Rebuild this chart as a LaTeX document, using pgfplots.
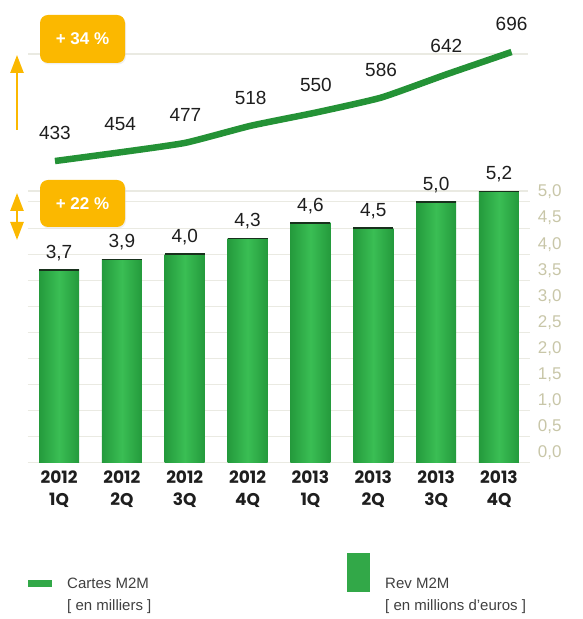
\documentclass[border=0pt]{standalone}
\usepackage{pgfplots}
\pgfplotsset{compat=1.18}
\usepackage{fontspec}
\setmainfont{Liberation Sans}
\newfontfamily\pop{Poppins}
\usetikzlibrary{arrows.meta}
\definecolor{barA}{RGB}{36,154,60}
\definecolor{barB}{RGB}{58,190,84}
\definecolor{lineG}{RGB}{36,146,54}
\definecolor{badge}{RGB}{251,184,0}
\definecolor{tickc}{RGB}{200,198,168}
\definecolor{gridc}{RGB}{234,234,226}
\definecolor{txt}{RGB}{30,30,30}
\definecolor{legG}{RGB}{50,168,72}
\definecolor{topE}{RGB}{24,48,28}
\pgfplotsset{
  bstyle/.style={ybar, bar width=40pt, draw=none, left color=barA, right color=barA, middle color=barB,
    every node near coord/.append style={anchor=center, yshift=17pt, font=\fontsize{19}{22}\selectfont, text=txt}},
}

\begin{document}
\begin{tikzpicture}
\useasboundingbox (0,0) rectangle (582pt,619pt);

% ---------------- line chart (Cartes M2M) ----------------
\begin{axis}[
  at={(28pt,427.7pt)}, anchor=south west,
  scale only axis, width=500pt, height=136.8pt,
  xmin=-0.4135, xmax=7.2523, ymin=360, ymax=690,
  axis line style={draw=none}, major tick length=0pt,
  xtick=\empty, ytick={360,690}, yticklabels={},
  ymajorgrids, grid style={gridc, line width=2pt},
  /pgf/number format/assume math mode=true,
  clip=false,
]
\addplot[lineG, line width=6.5pt, line cap=butt, line join=round, smooth, tension=0.3,
  nodes near coords,
  every node near coord/.append style={anchor=center, yshift=28pt, font=\fontsize{19}{22}\selectfont, text=txt}]
  coordinates {(0,433) (1,454) (2,477) (3,518) (4,550) (5,586) (6,642) (7,696)};
\end{axis}

% ---------------- bar chart (Rev M2M) ----------------
\begin{axis}[
  at={(27.6pt,156pt)}, anchor=south west,
  scale only axis, width=502.8pt, height=281.9pt,
  xmin=-0.5, xmax=7.5, ymin=0, ymax=5.4,
  axis line style={draw=none}, major tick length=0pt,
  xtick={0,1,2,3,4,5,6,7},
  xticklabels={{2012\\1Q},{2012\\2Q},{2012\\3Q},{2012\\4Q},{2013\\1Q},{2013\\2Q},{2013\\3Q},{2013\\4Q}},
  xticklabel style={align=center, font=\pop\bfseries\fontsize{17}{22}\selectfont, text=txt, yshift=-4pt},
  ytick={0,0.5,1,1.5,2,2.5,3,3.5,4,4.5,5}, yticklabel pos=right,
  ymajorgrids, grid style={gridc, line width=1pt},
  yticklabel style={text=tickc, font=\fontsize{17}{20}\selectfont, yshift=10pt, xshift=4pt,
    /pgf/number format/.cd, fixed, fixed zerofill, precision=1, use comma},
  /pgf/number format/assume math mode=true,
  clip=false,
]
\addplot[bstyle, nodes near coords={3,7}] coordinates {(0,3.7)};
\addplot[bstyle, nodes near coords={3,9}] coordinates {(1,3.9)};
\addplot[bstyle, nodes near coords={4,0}] coordinates {(2,4.0)};
\addplot[bstyle, nodes near coords={4,3}] coordinates {(3,4.3)};
\addplot[bstyle, nodes near coords={4,6}] coordinates {(4,4.6)};
\addplot[bstyle, nodes near coords={4,5}] coordinates {(5,4.5)};
\addplot[bstyle, nodes near coords={5,0}] coordinates {(6,5.0)};
\addplot[bstyle, nodes near coords={5,2}] coordinates {(7,5.2)};
\addplot[only marks, mark=-, mark size=20pt, line width=1.8pt, color=topE]
  coordinates {(0,3.7) (1,3.9) (2,4.0) (3,4.3) (4,4.6) (5,4.5) (6,5.0) (7,5.2)};
\end{axis}

% ---------------- badges and arrows ----------------
\node[fill=black!12, rounded corners=8pt, minimum width=85pt, minimum height=48pt, opacity=0.5] at (83.5pt,578.5pt) {};
\node[fill=badge, rounded corners=8pt, minimum width=85pt, minimum height=48pt, text=white,
  font=\bfseries\fontsize{17}{20}\selectfont] at (82.5pt,580pt) {+ 34 \%};
\node[fill=black!12, rounded corners=8pt, minimum width=85pt, minimum height=47pt, opacity=0.5] at (83.5pt,414pt) {};
\node[fill=badge, rounded corners=8pt, minimum width=85pt, minimum height=47pt, text=white,
  font=\bfseries\fontsize{17}{20}\selectfont] at (82.5pt,415.5pt) {+ 22 \%};
\draw[badge, line width=2.5pt, -{Triangle[width=13pt,length=18pt]}] (17pt,489pt) -- (17pt,564pt);
\draw[badge, line width=2.5pt, {Triangle[width=13pt,length=18pt]}-{Triangle[width=13pt,length=18pt]}] (17pt,379pt) -- (17pt,426pt);

% ---------------- legend ----------------
\fill[legG] (28pt,32pt) rectangle (52pt,39pt);
\node[anchor=west, text=txt!85, font=\fontsize{15}{18}\selectfont, inner sep=0pt] at (67pt,36pt) {Cartes M2M};
\node[anchor=west, text=txt!85, font=\fontsize{15}{18}\selectfont, inner sep=0pt] at (67pt,12pt) {[ en milliers ]};
\fill[legG] (347pt,27pt) rectangle (370pt,66pt);
\node[anchor=west, text=txt!85, font=\fontsize{15}{18}\selectfont, inner sep=0pt] at (385pt,36pt) {Rev M2M};
\node[anchor=west, text=txt!85, font=\fontsize{15}{18}\selectfont, inner sep=0pt] at (385pt,12pt) {[ en millions d’euros ]};
\end{tikzpicture}
\end{document}
